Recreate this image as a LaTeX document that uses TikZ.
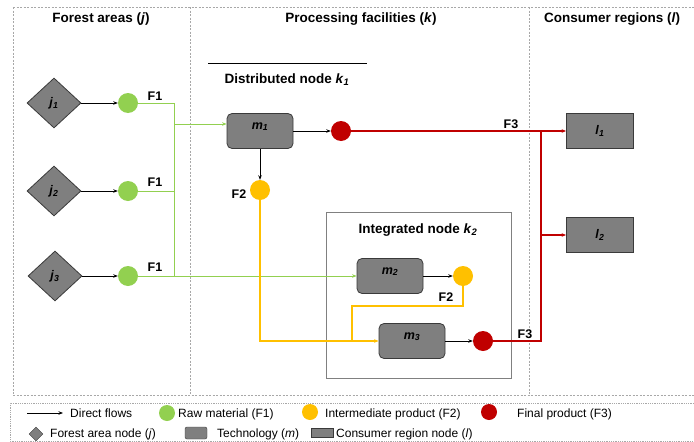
\documentclass[tikz,border=0pt]{standalone}
\usepackage{fontspec}
\setmainfont{Liberation Sans}
\usetikzlibrary{arrows.meta, positioning, calc, shapes.geometric}
\definecolor{rawgreen}{HTML}{92D050}
\definecolor{midyellow}{HTML}{FFC000}
\definecolor{finred}{HTML}{C00000}
\definecolor{nodegray}{HTML}{7F7F7F}
\definecolor{edgegray}{HTML}{3A3A3A}
\definecolor{framegray}{HTML}{A8A8A8}

\newcommand{\titlefont}{\fontsize{13.5}{16}\selectfont\bfseries}
\newcommand{\lblfont}{\fontsize{12.5}{14}\selectfont\bfseries}
\newcommand{\legfont}{\fontsize{12}{14}\selectfont}
\newcommand{\nsub}[2]{\textit{#1}\textsubscript{\textit{#2}}}

\begin{document}
\begin{tikzpicture}[x=1pt, y=-1pt,
  >={Stealth[length=4.5pt, width=3.5pt]},
  forest/.style={diamond, draw=edgegray, fill=nodegray, line width=0.8pt,
    minimum width=54pt, minimum height=50pt, inner sep=0pt, font=\lblfont},
  tech/.style={draw=edgegray, fill=nodegray, line width=0.8pt, rounded corners=5pt,
    minimum width=66pt, minimum height=35pt, inner sep=0pt, font=\lblfont,
    text height=8pt, text depth=12pt},
  region/.style={draw=edgegray, fill=nodegray, line width=0.8pt,
    minimum width=67pt, minimum height=35pt, inner sep=0pt, font=\lblfont},
  prod/.style={circle, fill=#1, draw=none, minimum size=20pt, inner sep=0pt},
  flowlbl/.style={font=\lblfont, inner sep=1pt},
  coltitle/.style={font=\titlefont, inner sep=1pt},
  legtxt/.style={font=\legfont, anchor=west, inner sep=0pt},
  frame/.style={framegray, dash pattern=on 2pt off 1.5pt, line width=0.7pt},
  arr/.style={->, line width=1pt, black},
  greenflow/.style={rawgreen, line width=1pt},
  yelflow/.style={midyellow, line width=1.5pt},
  redflow/.style={finred, line width=1.5pt},
]
\useasboundingbox (0,0) rectangle (694,442);

% Column frames
\draw[frame] (13,7) -- (694,7);
\draw[frame] (13,395) -- (694,395);
\draw[frame] (13,7) -- (13,395);
\draw[frame] (190,7) -- (190,395);
\draw[frame] (529,7) -- (529,395);

% Column titles
\node[coltitle] (tforest) at (101,19) {Forest areas (\textit{j})};
\node[coltitle] (tproc) at (361,19) {Processing facilities (\textit{k})};
\node[coltitle] (tcons) at (612,19) {Consumer regions (\textit{l})};

% =============================================
% Forest areas
% =============================================
\node[forest] (j1) at (54,103) {\nsub{j}{1}};
\node[forest] (j2) at (54,191) {\nsub{j}{2}};
\node[forest] (j3) at (55,276) {\nsub{j}{3}};

\node[prod=rawgreen] (g1) at (128,103) {};
\node[prod=rawgreen] (g2) at (128,191) {};
\node[prod=rawgreen] (g3) at (128,276) {};

\draw[arr] (j1.east) -- (g1.west);
\draw[arr] (j2.east) -- (g2.west);
\draw[arr] (j3.east) -- (g3.west);

\node[flowlbl] (f1a) at (155,96) {F1};
\node[flowlbl] (f1b) at (155,182) {F1};
\node[flowlbl] (f1c) at (155,267) {F1};

% =============================================
% Distributed node k1
% =============================================
\draw[line width=0.8pt] (208,63) -- (367,63);
\node[coltitle] (tdist) at (287,80) {Distributed node \nsub{k}{1}};

\node[tech] (m1) at (260,131) {\nsub{m}{1}};
\node[prod=finred] (r1) at (341,131) {};
\node[prod=midyellow] (y1) at (260,190) {};
\node[flowlbl] (f2a) at (239,194) {F2};

\draw[arr] (m1.east) -- (r1.west);
\draw[arr] (m1.south) -- (y1.north);

% =============================================
% Integrated node k2
% =============================================
\node[draw=gray, line width=0.8pt, minimum width=185pt, minimum height=166pt]
  (k2box) at (418.5,295) {};
\node[coltitle] (tint) at (418,230) {Integrated node \nsub{k}{2}};

\node[tech] (m2) at (390,276) {\nsub{m}{2}};
\node[prod=midyellow] (y2) at (463,276) {};
\node[flowlbl] (f2b) at (446,297) {F2};
\node[tech] (m3) at (412,341) {\nsub{m}{3}};
\node[prod=finred] (r2) at (483,341) {};

\draw[arr] (m2.east) -- (y2.west);
\draw[arr] (m3.east) -- (r2.west);

% =============================================
% Consumer regions
% =============================================
\node[region] (l1) at (600,131) {\nsub{l}{1}};
\node[region] (l2) at (600,235) {\nsub{l}{2}};

% =============================================
% Flows
% =============================================
% F1 (raw material)
\coordinate (gbus) at (174,0);
\coordinate (m1in) at ([yshift=7pt]m1.west);
\draw[greenflow] (g1.east) -- (g1 -| gbus) -- (g3 -| gbus);
\draw[greenflow] (g2.east) -- (g2 -| gbus);
\draw[greenflow, ->] (m1in -| gbus) -- (m1in);
\draw[greenflow, ->] (g3.east) -- (m2.west);

% F2 (intermediate product)
\coordinate (ybend) at (352,306);
\draw[yelflow, ->] (y1.south) -- (y1 |- m3) -- (m3.west);
\draw[yelflow] (y2.south) |- (ybend) -- (ybend |- m3);

% F3 (final product)
\coordinate (rbus) at (541,0);
\draw[redflow, ->] (r1.east) -- (l1.west);
\draw[redflow] (r2.east) -- (r2 -| rbus) -- (l1 -| rbus);
\draw[redflow, ->] (l2 -| rbus) -- (l2.west);
\node[flowlbl] (f3a) at (511,124) {F3};
\node[flowlbl] (f3b) at (525,334) {F3};

% =============================================
% Legend
% =============================================
\draw[framegray, densely dotted, line width=0.8pt] (694,403) -- (10,403) -- (10,441) -- (694,441);

\coordinate (lgA) at (27,413);
\coordinate (lgB) at (63,413);
\draw[arr, line width=0.8pt] (lgA) -- (lgB);
\node[legtxt] (lgflow) at (70,413) {Direct flows};
\node[prod=rawgreen, minimum size=16pt] (lggreen) at (167,413) {};
\node[legtxt] (lgraw) at (178,414) {Raw material (F1)};
\node[prod=midyellow, minimum size=16pt] (lgyel) at (310,412) {};
\node[legtxt] (lgmid) at (325,414) {Intermediate product (F2)};
\node[prod=finred, minimum size=16pt] (lgred) at (489,412) {};
\node[legtxt] (lgfin) at (517,414) {Final product (F3)};

\node[diamond, draw=edgegray, fill=nodegray, minimum size=14pt, inner sep=0pt] (lgdia) at (36,434) {};
\node[legtxt] (lgforest) at (50,434) {Forest area node (\textit{j})};
\node[draw=edgegray, fill=nodegray, rounded corners=2pt, minimum width=22pt,
  minimum height=12pt, inner sep=0pt] (lgtech) at (196,433) {};
\node[legtxt] (lgtechtxt) at (217,434) {Technology (\textit{m})};
\node[draw=edgegray, fill=nodegray, minimum width=22pt, minimum height=9pt,
  inner sep=0pt] (lgreg) at (322,433) {};
\node[legtxt] (lgregtxt) at (336,434) {Consumer region node (\textit{l})};

\end{tikzpicture}
\end{document}
